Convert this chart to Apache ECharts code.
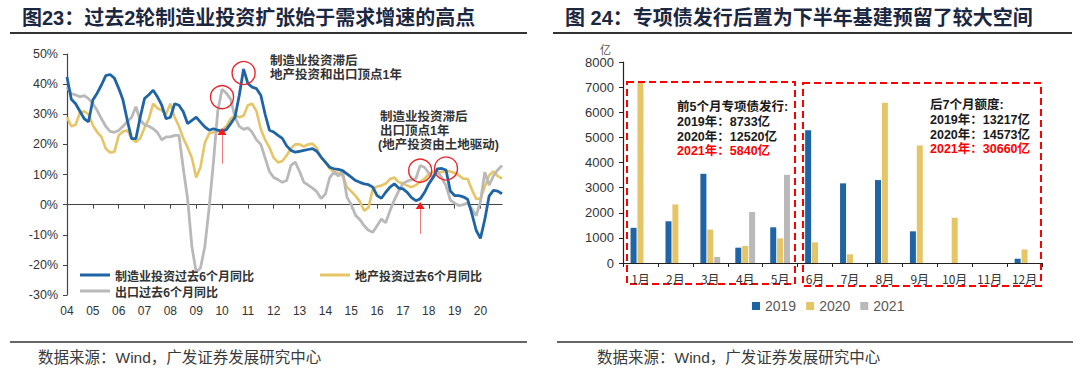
<!DOCTYPE html>
<html><head><meta charset="utf-8">
<script src="https://cdn.jsdelivr.net/npm/echarts@6/dist/echarts.min.js"></script>
<style>html,body{margin:0;padding:0;background:#fff}#c{width:1080px;height:371px}</style>
</head><body><div id="c"></div>
<script>
// ---------- Left chart data (bi-monthly readings, 2004-01 .. 2020-11) ----------
const yearLabels = ['04','05','06','07','08','09','10','11','12','13','14','15','16','17','18','19','20'];
const subPeriods = ['01','03','05','07','09','11'];
const mfgInv = [42.4,35,33.5,31,28.5,27.5, 34.7,37,39.7,42.8,43.2,42, 38.6,34.7,28,21.9,21.9,29,
  35.2,36.5,38,35.8,33,28.5, 29,33.5,33,30.8,26.9,28, 29,27.4,25.8,24.7,25.2,24.7,
  24.4,24.9,26.9,29,36.3,45, 40.2,39,38.5,36.3,30,24.7, 24.1,23,22,19.5,18,17.4,
  17.7,18,18.3,18.6,17.7,15.8, 14.1,12.4,11.9,11.7,11.3,10.2, 9.1,8,7.4,6.9,6.6,5.8,
  3,2.1,4.1,5.8,6.9,5.5, 5.2,4.1,2.3,1.3,1.9,4, 6.9,9,11.9,12,11.5,4.5,
  3,3,2.6,1.8,-3,-8.5, -11.2,-5,2.8,4.7,4.5,3.6];
const reInv = [29,26,26.5,30.5,31,30, 26.3,24.1,22.5,18.6,17.3,17.5, 23,24.3,24.7,22,20.8,22,
  25.5,28.5,33.5,32,31.3,30, 33.5,29,26,22,19,15.5, 9,12.5,20.5,23.6,24,24.3,
  24.7,26,28.5,29.7,29,29.5, 33,33.5,31,25,21.5,19, 15.5,14,14.5,16.3,18.7,20,
  20,19.3,20,20.2,18.8,15.5, 14,12,10.8,10.5,9.5,5.8, 4.4,2.9,1,-2,-1,5.2,
  6,6.3,7,8.5,9,7.5, 7,6.3,5.8,6.5,7.5,8.6, 10,10.8,10.8,10.8,11.2,11,
  10.5,9.7,8.6,8.6,5,1.9, 2,6,9.7,11,9.5,8.6];
const exportGr = [39,36.8,36.4,35.8,36.2,35.2, 33.5,31.3,28.5,26,24.3,24, 24.6,26,27.5,29,32.5,28,
  26.5,26,25.2,24,21.5,22.5, 22.5,23,23,12,2,-14, -22.5,-21,-14,-1,14,31,
  38.3,37,35,29,26,25, 25.5,24,21.5,20,15.5,11, 9,8.3,7.4,8,13,14.1,
  11,7.4,6.5,5.5,4.3,2, 3.5,9,10.8,9.5,11,2.5, 0,-3.5,-5,-7,-8.5,-9.2,
  -7,-4.8,-6,-2,1.5,4.5, 7,7.8,8.3,8.6,13,12.4, 10.5,9,11,9,6.3,1.5,
  0.5,-0.3,0,0.5,-1.4,-3.7, 1,10.8,6.5,9.5,11.5,13];
const leftTicks = [-30,-20,-10,0,10,20,30,40,50];

// ---------- Right chart data (special bonds, 亿) ----------
const months = ['1月','2月','3月','4月','5月','6月','7月','8月','9月','10月','11月','12月'];
const bond2019 = [1400,1660,3550,610,1420,5280,3170,3300,1260,0,0,170];
const bond2020 = [7160,2330,1330,680,980,820,345,6380,4680,1800,0,540];
const bond2021 = [0,0,240,2030,3510,0,0,0,0,0,0,0];

const categories = [];
yearLabels.forEach(y => subPeriods.forEach(m => categories.push(y + '-' + m)));

const CJK = "'Noto Sans CJK SC', sans-serif";
const LAT = "'Liberation Sans', 'Noto Sans CJK SC', sans-serif";
const BLUE = '#1f64a4', GOLD = '#e5c565', GRAY = '#b9b9b9';
const RED = '#ff0000';

const chart = echarts.init(document.getElementById('c'), null, {renderer: 'svg'});

function txt(x, y, s, size, color, weight, family) {
  return {type: 'text', x: x, y: y, silent: true,
    style: {text: s, fill: color, font: (weight || 'normal') + ' ' + size + 'px ' + (family || CJK),
      textVerticalAlign: 'middle', textAlign: 'left'}};
}
function hline(x1, x2, y, w) {
  return {type: 'line', silent: true, shape: {x1: x1, y1: y, x2: x2, y2: y}, style: {stroke: '#333', lineWidth: w}};
}

const labelFmt = v => v.split('-')[0];
const legendText = {fontSize: 12, fontWeight: 'bold', color: '#333', fontFamily: CJK, lineHeight: 12};

const option = {
  animation: false,
  backgroundColor: '#fff',
  grid: [
    {left: 67, right: 578, top: 54, bottom: 76},
    {left: 623, right: 38, top: 62, bottom: 108}
  ],
  xAxis: [
    {type: 'category', gridIndex: 0, data: categories, boundaryGap: false, position: 'bottom',
      axisLine: {onZero: true, lineStyle: {color: '#444', width: 1.2}},
      axisTick: {show: true, interval: 5, length: 4, lineStyle: {color: '#444'}},
      axisLabel: {show: false}, splitLine: {show: false}},
    {type: 'category', gridIndex: 0, data: categories, boundaryGap: false, position: 'bottom',
      axisLine: {show: false, onZero: false}, axisTick: {show: false},
      axisLabel: {interval: 5, formatter: labelFmt, color: '#333', fontSize: 12, fontFamily: LAT, margin: 10, lineHeight: 12},
      splitLine: {show: false}},
    {type: 'category', gridIndex: 1, data: months,
      axisLine: {lineStyle: {color: '#222', width: 1.2}},
      axisTick: {show: true, length: 4, lineStyle: {color: '#222'}},
      axisLabel: {color: '#333', fontSize: 12, fontFamily: CJK, margin: 9}}
  ],
  yAxis: [
    {type: 'value', gridIndex: 0, min: leftTicks[0], max: leftTicks[leftTicks.length - 1], interval: 10,
      axisLine: {show: true, lineStyle: {color: '#444', width: 1.2}},
      axisTick: {show: true, length: 4, lineStyle: {color: '#444'}},
      axisLabel: {formatter: '{value}%', color: '#333', fontSize: 12.5, fontFamily: LAT, margin: 9},
      splitLine: {show: false}},
    {type: 'value', gridIndex: 1, min: 0, max: 8000, interval: 1000,
      name: '亿', nameGap: 8, nameTextStyle: {color: '#555', fontSize: 11, fontFamily: CJK, align: 'right', padding: [0, 12, 0, 0]},
      axisLine: {show: true, lineStyle: {color: '#222', width: 1.2}},
      axisTick: {show: true, length: 4, lineStyle: {color: '#222'}},
      axisLabel: {color: '#333', fontSize: 13, fontFamily: LAT, margin: 9, formatter: v => String(v)},
      splitLine: {show: false}}
  ],
  legend: [
    {data: ['制造业投资过去6个月同比'], left: 80, top: 269, itemWidth: 30, itemHeight: 3, icon: 'rect',
      padding: 0, textStyle: legendText},
    {data: ['地产投资过去6个月同比'], left: 320, top: 269, itemWidth: 30, itemHeight: 3, icon: 'rect',
      padding: 0, textStyle: legendText},
    {data: ['出口过去6个月同比'], left: 80, top: 285, itemWidth: 30, itemHeight: 3, icon: 'rect',
      padding: 0, textStyle: legendText},
    {data: ['2019', '2020', '2021'], left: 747, top: 294, itemWidth: 8, itemHeight: 8, icon: 'rect', itemGap: 10,
      textStyle: {fontSize: 14, color: '#595959', fontFamily: LAT}}
  ],
  series: [
    {name: '地产投资过去6个月同比', type: 'line', xAxisIndex: 0, yAxisIndex: 0, data: reInv,
      showSymbol: false, symbol: 'none', lineStyle: {color: GOLD, width: 2.6}, itemStyle: {color: GOLD}, z: 2},
    {name: '出口过去6个月同比', type: 'line', xAxisIndex: 0, yAxisIndex: 0, data: exportGr,
      showSymbol: false, symbol: 'none', lineStyle: {color: GRAY, width: 2.8}, itemStyle: {color: GRAY}, z: 3,
      markPoint: {silent: true, symbol: 'circle', symbolSize: 23, label: {show: false},
        itemStyle: {color: 'rgba(255,255,255,0)', borderColor: '#e8262b', borderWidth: 1.4},
        data: [{coord: [36, 35.7]}, {coord: [41, 43.7]}, {coord: [82, 11.3]}, {coord: [88, 12]}]}},
    {name: '制造业投资过去6个月同比', type: 'line', xAxisIndex: 0, yAxisIndex: 0, data: mfgInv,
      showSymbol: false, symbol: 'none', lineStyle: {color: BLUE, width: 2.8}, itemStyle: {color: BLUE}, z: 4,
      markLine: {silent: true, symbol: ['none', 'none'], label: {show: false},
        lineStyle: {color: '#f07a7a', width: 1, type: 'solid'},
        data: [[{coord: [36, 13.6]}, {coord: [36, 24]}], [{coord: [82, -9.7]}, {coord: [82, -0.6]}]]},
      markPoint: {silent: true, symbol: 'triangle', symbolSize: [9, 7], label: {show: false},
        itemStyle: {color: '#ee1c1c'},
        data: [{coord: [36, 24.3]}, {coord: [82, -0.3]}]}},
    {name: '2019', type: 'bar', xAxisIndex: 2, yAxisIndex: 1, data: bond2019, barWidth: 6, barGap: '15%',
      itemStyle: {color: BLUE}},
    {name: '2020', type: 'bar', xAxisIndex: 2, yAxisIndex: 1, data: bond2020, barWidth: 6, barGap: '15%',
      itemStyle: {color: GOLD}},
    {name: '2021', type: 'bar', xAxisIndex: 2, yAxisIndex: 1, data: bond2021, barWidth: 6, barGap: '15%',
      itemStyle: {color: GRAY}}
  ],
  graphic: [
    txt(22, 18, '图23：过去2轮制造业投资扩张始于需求增速的高点', 20, '#1c2740', 'bold', LAT),
    txt(565, 18, '图 24：专项债发行后置为下半年基建预留了较大空间', 20, '#1c2740', 'bold', LAT),
    hline(10, 527, 33, 2),
    hline(553, 1072, 33, 2),
    hline(10, 527, 342, 1.5),
    hline(557, 1073, 342, 1.5),
    txt(38, 357, '数据来源：Wind，广发证券发展研究中心', 15.5, '#3a3a3a', 'normal', LAT),
    txt(597, 357, '数据来源：Wind，广发证券发展研究中心', 15.5, '#3a3a3a', 'normal', LAT),
    txt(270, 61, '制造业投资滞后', 12.5, '#333', 'bold', LAT),
    txt(270, 75, '地产投资和出口顶点1年', 12.5, '#333', 'bold', LAT),
    txt(380, 117, '制造业投资滞后', 12.5, '#333', 'bold', LAT),
    txt(380, 131, '出口顶点1年', 12.5, '#333', 'bold', LAT),
    txt(378, 145, '(地产投资由土地驱动)', 12.5, '#333', 'bold', LAT),
    {type: 'rect', silent: true, shape: {x: 627, y: 82, width: 168, height: 202},
      style: {fill: 'none', stroke: RED, lineWidth: 2, lineDash: [7, 4]}},
    {type: 'rect', silent: true, shape: {x: 803, y: 83, width: 238, height: 203},
      style: {fill: 'none', stroke: RED, lineWidth: 2, lineDash: [7, 4]}},
    txt(677, 107, '前5个月专项债发行:', 12.5, '#1a1a1a', 'bold', LAT),
    txt(677, 122, '2019年：8733亿', 12.5, '#1a1a1a', 'bold', LAT),
    txt(677, 137, '2020年：12520亿', 12.5, '#1a1a1a', 'bold', LAT),
    txt(677, 151, '2021年：5840亿', 12.5, RED, 'bold', LAT),
    txt(930, 105, '后7个月额度:', 12.5, '#1a1a1a', 'bold', LAT),
    txt(930, 120, '2019年：13217亿', 12.5, '#1a1a1a', 'bold', LAT),
    txt(930, 135, '2020年：14573亿', 12.5, '#1a1a1a', 'bold', LAT),
    txt(930, 149, '2021年：30660亿', 12.5, RED, 'bold', LAT)
  ]
};
chart.setOption(option);
</script>
</body></html>
